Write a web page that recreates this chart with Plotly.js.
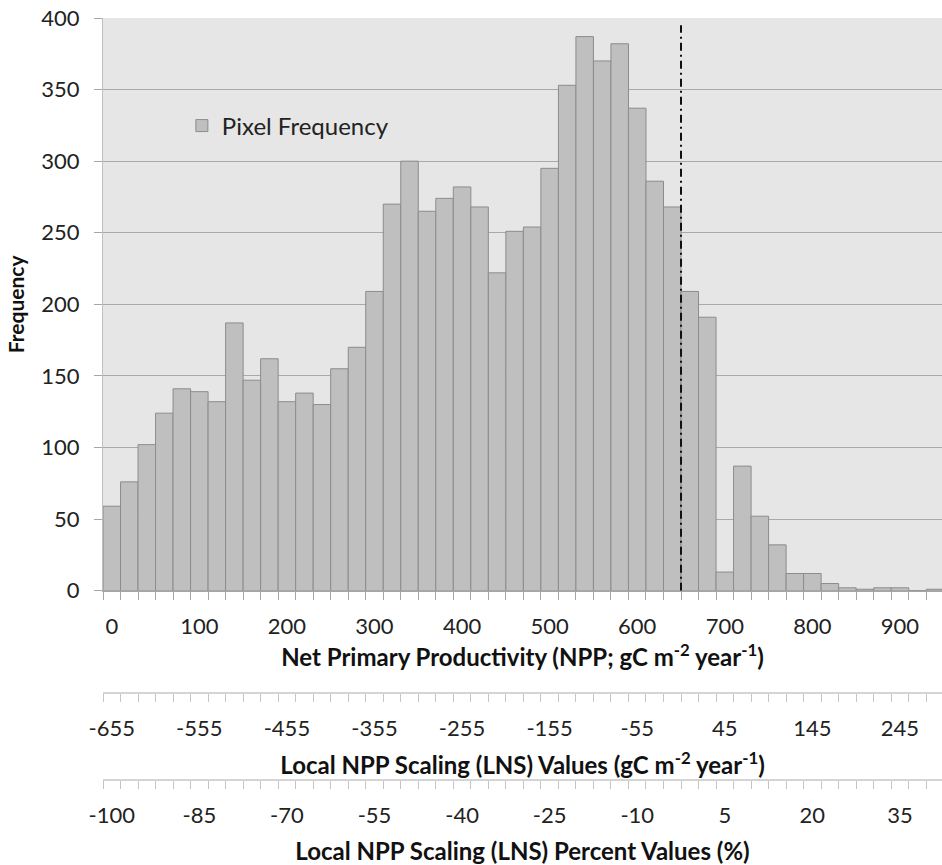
<!DOCTYPE html>
<html>
<head>
<meta charset="utf-8">
<script src="https://cdn.plot.ly/plotly-3.0.1.min.js"></script>
<style>html,body{margin:0;padding:0;background:#fff;}#chart{width:942px;height:865px;}</style>
</head>
<body>
<div id="chart"></div>
<script>
// NPP bin centres (gC m-2 year-1), bin width 20
const binWidth = 20;
const binCenters = [0,20,40,60,80,100,120,140,160,180,200,220,240,260,280,300,320,340,360,380,
  400,420,440,460,480,500,520,540,560,580,600,620,640,660,680,700,720,740,760,780,
  800,820,840,860,880,900,920,940];
// Pixel frequency per bin
const frequencies = [59,76,102,124,141,139,132,187,147,162,132,138,130,155,170,209,270,300,265,274,
  282,268,222,251,254,295,353,387,370,382,337,286,268,209,191,13,87,52,32,12,
  12,5,2,1,2,2,0,1];
// Label positions (NPP) and labels for the three x axes
const labelNPP = [0,100,200,300,400,500,600,700,800,900];
const nppLabels = ['0','100','200','300','400','500','600','700','800','900'];
const lnsLabels = ['-655','-555','-455','-355','-255','-155','-55','45','145','245'];
const lnsPctLabels = ['-100','-85','-70','-55','-40','-25','-10','5','20','35'];
// Reference threshold line (NPP)
const thresholdNPP = 650;
const thresholdTop = 395;

const FONT = 'Lato, "Open Sans", sans-serif';
const xRange = [-10, 948];
// tick marks sit on the bin boundaries
const boundaries = binCenters.map(c => c - binWidth / 2);

const traces = [
  {type:'bar', x: binCenters, y: frequencies, name:'Pixel Frequency', width: binWidth,
   marker:{color:'#bfbfbf', line:{color:'#8c8c8c', width:1}}, hoverinfo:'x+y'}
];
['x2','x3'].forEach(ax => traces.push(
  {type:'scatter', x: binCenters, y: frequencies, xaxis: ax, yaxis:'y', mode:'none', showlegend:false, hoverinfo:'skip'}));

const tickFont = {family: FONT, size: 22, color:'#222'};
const titleFont = {family: FONT, size: 24, color:'#111', weight: 'bold'};

function xAxis(labels, lineColor, lineWidth, tickColor) {
  return {range: xRange, tickmode:'array', tickvals: labelNPP, ticktext: labels, ticks:'',
          ticklabelstandoff: 16, showgrid:false, zeroline:false, tickfont: tickFont,
          showline:true, linecolor: lineColor, linewidth: lineWidth,
          minor:{tickmode:'array', tickvals: boundaries, ticks:'outside', ticklen:8,
                 tickcolor: tickColor, tickwidth:1, showgrid:false}};
}

const layout = {
  width: 942, height: 865,
  margin: {l:103, r:0, t:18, b:10},
  paper_bgcolor:'#ffffff', plot_bgcolor:'#e6e6e6',
  bargap: 0,
  showlegend: true,
  legend: {x:0.094, y:0.871, xanchor:'left', yanchor:'middle', bgcolor:'rgba(0,0,0,0)',
           font:{family:FONT, size:24, color:'#222'}},
  xaxis: Object.assign(xAxis(nppLabels, '#a6a6a6', 1, '#a6a6a6'), {
          title:{text:'Net Primary Productivity (NPP; gC m<sup>-2</sup> year<sup>-1</sup>)', font: titleFont, standoff: 10}}),
  xaxis2: Object.assign(xAxis(lnsLabels, '#d4d4d4', 2, '#c4c4c4'), {overlaying:'x', anchor:'free', position: 0.1935, side:'bottom',
          title:{text:'Local NPP Scaling (LNS) Values (gC m<sup>-2</sup> year<sup>-1</sup>)', font: titleFont, standoff: 16}}),
  xaxis3: Object.assign(xAxis(lnsPctLabels, '#d4d4d4', 2, '#c4c4c4'), {overlaying:'x', anchor:'free', position: 0.0896, side:'bottom',
          title:{text:'Local NPP Scaling (LNS) Percent Values (%)', font: titleFont, standoff: 18}}),
  yaxis: {domain:[0.3158, 1], range:[0,400], dtick:50, tick0:0, showgrid:true, gridcolor:'#a9a9a9', gridwidth:1,
          zeroline:false, showline:true, linecolor:'#bfbfbf', linewidth:1,
          ticks:'outside', ticklen:8, tickcolor:'#a6a6a6', tickfont: tickFont, ticklabelstandoff: 10,
          title:{text:'Frequency', font: {family: FONT, size: 21, color:'#111', weight:'bold'}, standoff: 10}},
  shapes: [
    {type:'line', xref:'x', yref:'y', x0: thresholdNPP, x1: thresholdNPP, y0: 0, y1: thresholdTop,
     line:{color:'#111', width:2, dash:'8px,4px,2px,4px'}, layer:'above'}
  ]
};

Plotly.newPlot('chart', traces, layout, {displayModeBar:false, staticPlot:true});
</script>
</body>
</html>
